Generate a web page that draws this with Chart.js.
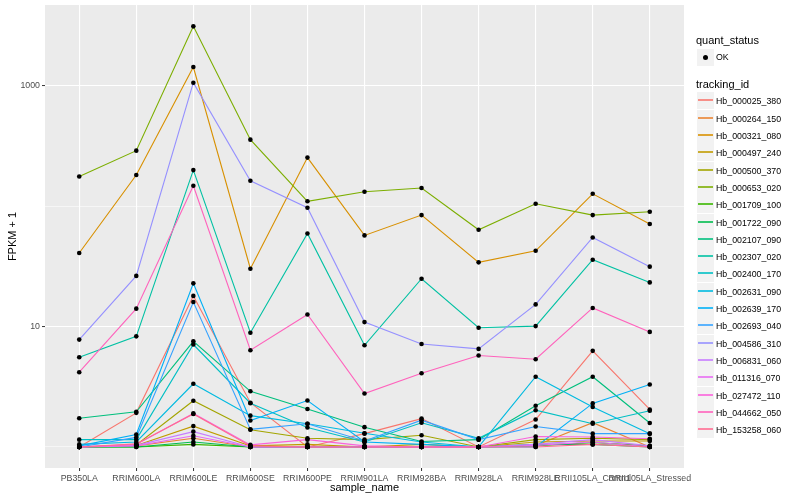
<!DOCTYPE html>
<html><head><meta charset="utf-8">
<script src="https://cdn.jsdelivr.net/npm/chart.js@4"></script>
<style>
body{margin:0;background:#fff;}
#wrap{position:relative;width:800px;height:500px;font-family:"Liberation Sans",Arial,sans-serif;}
canvas{position:absolute;left:0;top:0;}
.lt{position:absolute;font-size:11px;color:#000;line-height:13px;white-space:nowrap;}
.li{position:absolute;font-size:8.8px;color:#000;line-height:10px;white-space:nowrap;}
.key{position:absolute;width:17px;height:17px;background:#F2F2F2;}
.kl{position:absolute;left:1px;right:1px;top:7px;height:2px;opacity:0.8;}
.kp{position:absolute;left:6px;top:6px;width:5px;height:5px;border-radius:50%;background:#000;}
</style></head><body>
<div id="wrap"><canvas id="c" width="800" height="500"></canvas><div id="legend"></div></div>
<script>
// ---- data ----
const categories = ["PB350LA","RRIM600LA","RRIM600LE","RRIM600SE","RRIM600PE","RRIM901LA","RRIM928BA","RRIM928LA","RRIM928LE","RRII105LA_Control","RRII105LA_Stressed"];
const trackingIds = ["Hb_000025_380","Hb_000264_150","Hb_000321_080","Hb_000497_240","Hb_000500_370","Hb_000653_020","Hb_001709_100","Hb_001722_090","Hb_002107_090","Hb_002307_020","Hb_002400_170","Hb_002631_090","Hb_002639_170","Hb_002693_040","Hb_004586_310","Hb_006831_060","Hb_011316_070","Hb_027472_110","Hb_044662_050","Hb_153258_060"];
const seriesColors = ["#F8766D","#EA8331","#D89000","#C09B00","#A3A500","#7CAE00","#39B600","#00BB4E","#00BF7D","#00C1A3","#00BFC4","#00BAE0","#00B0F6","#35A2FF","#9590FF","#C77CFF","#E76BF3","#FA62DB","#FF62BC","#FF6C91"];
const yTickValues = [1, 10, 100, 1000];
const yTickLabels = ["", "10", "", "1000"];

const Hb_000025_380 = [1.0, 1.92, 18.0, 2.33, 1.0, 1.29, 1.72, 1.0, 1.69, 6.29, 2.05];
const Hb_000264_150 = [1.0, 1.02, 1.18, 1.0, 1.0, 1.0, 1.0, 1.0, 1.03, 1.59, 1.0];
const Hb_000321_080 = [40.9, 182, 1438, 30.3, 254, 57.3, 84.5, 34.2, 42.7, 127, 71.2];
const Hb_000497_240 = [1.0, 1.03, 1.49, 1.02, 1.05, 1.0, 1.05, 1.0, 1.1, 1.12, 1.12];
const Hb_000500_370 = [1.0, 1.04, 2.42, 1.39, 1.18, 1.15, 1.25, 1.0, 1.15, 1.18, 1.15];
const Hb_000653_020 = [177, 290, 3130, 358, 110, 132, 142, 63.8, 105, 84.5, 90];
const Hb_001709_100 = [1.0, 1.0, 1.05, 1.0, 1.0, 1.0, 1.0, 1.0, 1.02, 1.09, 1.02];
const Hb_001722_090 = [1.0, 1.0, 1.1, 1.0, 1.0, 1.0, 1.0, 1.0, 1.05, 1.05, 1.0];
const Hb_002107_090 = [1.73, 1.96, 7.55, 2.9, 2.07, 1.46, 1.11, 1.15, 2.2, 3.83, 1.58];
const Hb_002307_020 = [5.56, 8.3, 200, 8.9, 59.5, 7.0, 25, 9.8, 10.1, 36, 23.3];
const Hb_002400_170 = [1.15, 1.15, 7.1, 2.31, 1.45, 1.1, 1.59, 1.18, 2.02, 1.56, 2.0];
const Hb_002631_090 = [1.05, 1.1, 3.35, 1.82, 1.56, 1.3, 1.1, 1.0, 3.83, 2.15, 1.29];
const Hb_002639_170 = [1.02, 1.27, 22.9, 1.66, 2.43, 1.1, 1.05, 1.0, 1.0, 2.3, 3.3];
const Hb_002693_040 = [1.0, 1.2, 16.0, 1.4, 1.56, 1.12, 1.67, 1.15, 1.48, 1.29, 1.29];
const Hb_004586_310 = [7.8, 26.4, 1065, 163, 97.2, 10.9, 7.18, 6.53, 15.3, 55.1, 31.5];
const Hb_006831_060 = [1.0, 1.03, 1.34, 1.0, 1.0, 1.0, 1.0, 1.0, 1.05, 1.15, 1.02];
const Hb_011316_070 = [1.0, 1.02, 1.24, 1.0, 1.0, 1.0, 1.0, 1.0, 1.03, 1.1, 1.0];
const Hb_027472_110 = [1.0, 1.05, 1.9, 1.04, 1.15, 1.02, 1.0, 1.0, 1.22, 1.21, 1.17];
const Hb_044662_050 = [4.18, 14.1, 148, 6.36, 12.6, 2.78, 4.10, 5.75, 5.36, 14.3, 9.04];
const Hb_153258_060 = [1.0, 1.06, 1.88, 1.02, 1.0, 1.0, 1.0, 1.0, 1.0, 1.05, 1.0];

const seriesValues = [Hb_000025_380, Hb_000264_150, Hb_000321_080, Hb_000497_240, Hb_000500_370, Hb_000653_020, Hb_001709_100, Hb_001722_090, Hb_002107_090, Hb_002307_020, Hb_002400_170, Hb_002631_090, Hb_002639_170, Hb_002693_040, Hb_004586_310, Hb_006831_060, Hb_011316_070, Hb_027472_110, Hb_044662_050, Hb_153258_060];

// ---- chart ----
const toXY = arr => arr.map((v, i) => ({x: i, y: v}));
const datasets = [];
seriesValues.forEach((vals, i) => {
  datasets.push({label: trackingIds[i], data: toXY(vals), borderColor: seriesColors[i], borderWidth: 1.1,
    pointRadius: 0, tension: 0, fill: false, order: 100 - i});
});
seriesValues.forEach((vals, i) => {
  datasets.push({label: trackingIds[i] + " OK", data: toXY(vals), showLine: false, pointRadius: 2.3,
    pointBackgroundColor: "#000", pointBorderWidth: 0, borderColor: "#000", order: 0});
});

const panelBg = {id: "panelBg", beforeDraw(chart) {
  const {ctx, chartArea: a} = chart;
  ctx.save(); ctx.fillStyle = "#EBEBEB";
  ctx.fillRect(a.left, a.top, a.right - a.left, a.bottom - a.top); ctx.restore();
}};

const tickFont = {family: "Liberation Sans", size: 8.8};
new Chart(document.getElementById("c"), {
  type: "line",
  data: {datasets},
  plugins: [panelBg],
  options: {
    responsive: false, animation: false, devicePixelRatio: 1,
    layout: {padding: {top: 5, right: 116, left: 0, bottom: 0}},
    plugins: {legend: {display: false}, tooltip: {enabled: false}},
    scales: {
      x: {
        type: "linear", min: -0.6, max: 10.6, offset: false,
        afterBuildTicks: s => { s.ticks = categories.map((c, i) => ({value: i})); },
        afterFit: s => { s.height = 32; s.paddingLeft = 0; s.paddingRight = 0; },
        ticks: {autoSkip: false, maxRotation: 0, minRotation: 0, padding: 2, color: "#4D4D4D", font: tickFont,
          callback: v => categories[v]},
        grid: {color: "#FFFFFF", lineWidth: 1.1, tickLength: 3, tickColor: "#333333", tickWidth: 1},
        border: {display: false},
        title: {display: true, text: "sample_name", color: "#000", font: {family: "Liberation Sans", size: 11}, padding: {top: 0, bottom: 5}}
      },
      y: {
        type: "logarithmic", min: Math.pow(10, -0.175), max: Math.pow(10, 3.673),
        afterBuildTicks: s => { s.ticks = yTickValues.map(v => ({value: v})); },
        afterFit: s => { s.width = 45; s.paddingTop = 0; s.paddingBottom = 0; },
        ticks: {autoSkip: false, padding: 2, color: "#4D4D4D", font: tickFont,
          callback: v => { const k = yTickValues.indexOf(v); return k >= 0 ? yTickLabels[k] : ""; }},
        grid: {color: "#FFFFFF", tickLength: 3, tickWidth: 1,
          lineWidth: c => (c.tick && yTickLabels[yTickValues.indexOf(c.tick.value)] !== "") ? 1.1 : 0.55,
          tickColor: c => (c.tick && yTickLabels[yTickValues.indexOf(c.tick.value)] !== "") ? "#333333" : "rgba(0,0,0,0)"},
        border: {display: false},
        title: {display: true, text: "FPKM + 1", color: "#000", font: {family: "Liberation Sans", size: 11}, padding: {top: 6, bottom: 0}}
      }
    }
  }
});

// ---- legend (HTML text) ----
const lg = document.getElementById("legend");
function add(html) { lg.insertAdjacentHTML("beforeend", html); }
add('<div class="lt" style="left:696px;top:34px">quant_status</div>');
add('<div class="key" style="left:697px;top:49px"><div class="kp"></div></div>');
add('<div class="li" style="left:716px;top:52px">OK</div>');
add('<div class="lt" style="left:696px;top:78px">tracking_id</div>');
trackingIds.forEach((id, i) => {
  const top = Math.round(92.4 + 17.3 * i);
  add('<div class="key" style="left:697px;top:' + top + 'px"><div class="kl" style="background:' + seriesColors[i] + '"></div></div>');
  add('<div class="li" style="left:716px;top:' + (top + 4) + 'px">' + id + '</div>');
});
</script>
</body></html>
